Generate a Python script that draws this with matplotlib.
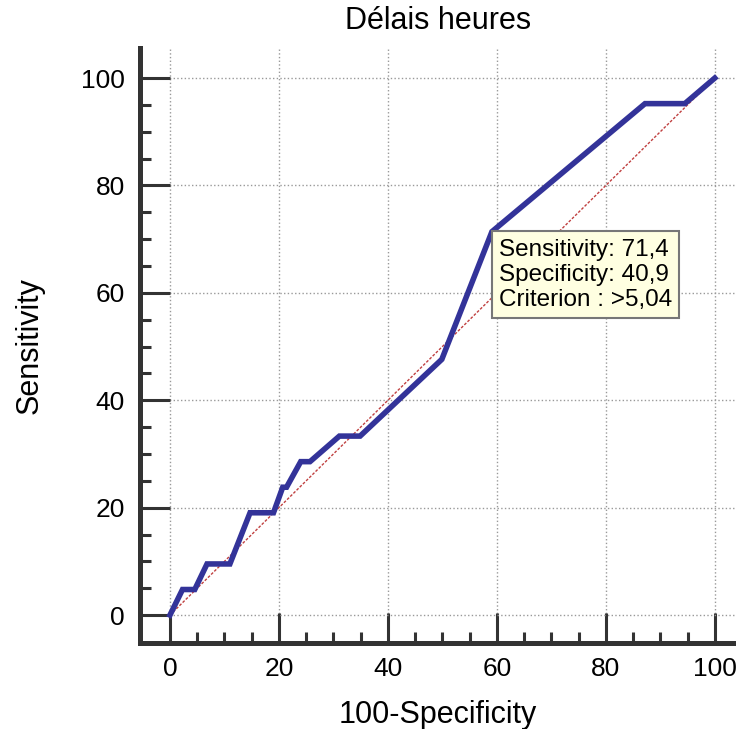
import matplotlib
matplotlib.use("Agg")
import matplotlib.pyplot as plt
from matplotlib.ticker import FixedLocator

plt.rcParams['font.family'] = ['Liberation Sans', 'DejaVu Sans']

# ROC curve points (100-Specificity, Sensitivity)
fpr = [0, 2.3, 4.55, 6.8, 11.0, 14.7, 19.0, 20.7, 21.4, 24.0, 25.7, 31.1, 34.9, 49.9, 59.1, 87.2, 94.5, 100]
tpr = [0, 4.76, 4.76, 9.52, 9.52, 19.05, 19.05, 23.81, 23.81, 28.57, 28.57, 33.33, 33.33, 47.62, 71.4, 95.24, 95.24, 100]
diag = [0, 100]
major_ticks = [0, 20, 40, 60, 80, 100]
minor_ticks = [5, 10, 15, 25, 30, 35, 45, 50, 55, 65, 70, 75, 85, 90, 95]
tooltip_lines = ["Sensitivity: 71,4", "Specificity: 40,9", "Criterion : >5,04"]
tooltip_xy = (59.1, 71.4)

fig = plt.figure(figsize=(7.36, 7.29), dpi=100)
ax = fig.add_axes([140/736, 86/729, 596/736, 595/729])

ax.set_xlim(-5.5, 103.9)
ax.set_ylim(-5.2, 105.6)

ax.plot(diag, diag, color='#c04040', lw=1.0, ls=(0, (2, 1.2)), zorder=2)
ax.plot(fpr, tpr, color='#333399', lw=4.0, solid_joinstyle='miter', zorder=3)

ax.set_xticks(major_ticks)
ax.set_yticks(major_ticks)
ax.xaxis.set_minor_locator(FixedLocator(minor_ticks))
ax.yaxis.set_minor_locator(FixedLocator(minor_ticks))

ax.grid(True, which='major', color='#999999', ls=':', lw=1.0, zorder=1)

for s in ['top', 'right']:
    ax.spines[s].set_visible(False)
for s in ['left', 'bottom']:
    ax.spines[s].set_linewidth(3.6)
    ax.spines[s].set_color('#333333')

ax.tick_params(which='major', direction='in', length=21.6, width=2.2, color='#333333',
               labelsize=19, pad=10)
ax.tick_params(which='minor', direction='in', length=8, width=2.2, color='#333333')
ax.tick_params(axis='y', which='major', pad=11)

ax.set_title('Délais heures', fontsize=22, pad=14)
ax.set_xlabel('100-Specificity', fontsize=22, labelpad=14)
ax.set_ylabel('Sensitivity', fontsize=22, labelpad=26)

ax.annotate("\n".join(tooltip_lines), xy=tooltip_xy, xytext=(5, -5),
            textcoords='offset points', ha='left', va='top', fontsize=17.5,
            linespacing=1.18, zorder=5,
            bbox=dict(boxstyle='square,pad=0.3', fc='#ffffe1', ec='#777777', lw=1.5))

fig.savefig('out.png', dpi=100)
